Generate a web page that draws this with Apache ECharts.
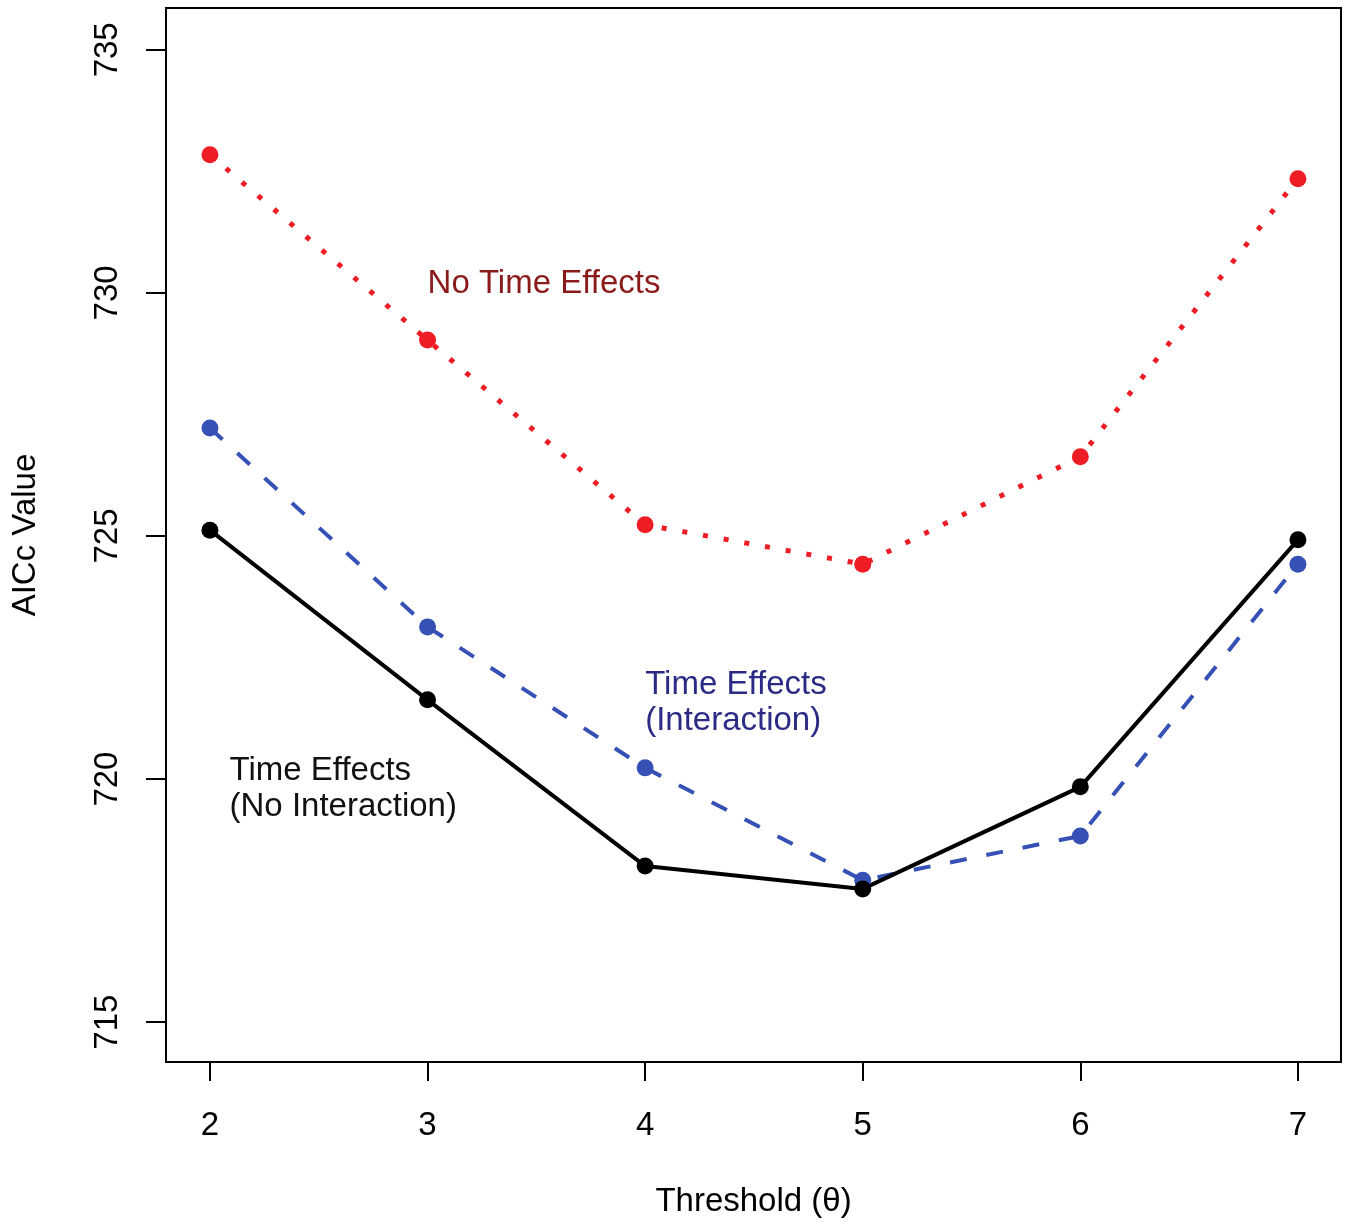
<!DOCTYPE html>
<html>
<head>
<meta charset="utf-8">
<script src="https://cdn.jsdelivr.net/npm/echarts@6.0.0/dist/echarts.min.js"></script>
<style>
  html, body { margin: 0; padding: 0; background: #fff; }
  #chart { width: 1350px; height: 1224px; }
</style>
</head>
<body>
<div id="chart"></div>
<script>
// 阈值 θ
var thresholds = [2, 3, 4, 5, 6, 7]
// AICc 数值
var noTimeEffects = [732.84, 729.03, 725.23, 724.42, 726.63, 732.35]
var timeInteraction = [727.22, 723.13, 720.23, 717.92, 718.83, 724.42]
var timeNoInteraction = [725.12, 721.63, 718.21, 717.74, 719.84, 724.92]
// 刻度
var xTicks = [2, 3, 4, 5, 6, 7]
var yTicks = [715, 720, 725, 730, 735]

;(function () {
  var myChart = echarts.init(document.getElementById('chart'))
  var font = 'Liberation Sans, Arial, sans-serif'

  function pairs(ys) {
    return thresholds.map(function (x, i) {
      return [x, ys[i]]
    })
  }

  // 文字标注
  function note(coord, text, color) {
    return {
      symbol: 'circle',
      symbolSize: 0,
      data: [
        {
          coord: coord,
          label: {
            show: true,
            position: 'right',
            distance: 0,
            formatter: text,
            color: color,
            fontSize: 33,
            lineHeight: 36,
            fontFamily: font,
            align: 'left'
          }
        }
      ],
      silent: true,
      animation: false
    }
  }

  var option = {
    animation: false,
    grid: {
      left: 166,
      top: 8,
      right: 9,
      bottom: 162,
      show: true,
      borderColor: '#000',
      borderWidth: 2
    },
    xAxis: {
      type: 'value',
      min: 1.798,
      max: 7.198,
      name: 'Threshold (θ)',
      nameLocation: 'middle',
      nameGap: 123,
      nameTextStyle: { color: '#000', fontSize: 33, fontFamily: font },
      axisLine: { show: true, lineStyle: { color: '#000', width: 2 } },
      axisTick: {
        show: true,
        length: 19,
        customValues: xTicks,
        lineStyle: { color: '#000', width: 2 }
      },
      axisLabel: {
        customValues: xTicks,
        margin: 47,
        color: '#000',
        fontSize: 33,
        fontFamily: font
      },
      splitLine: { show: false }
    },
    yAxis: {
      type: 'value',
      min: 714.18,
      max: 735.86,
      name: 'AICc Value',
      nameLocation: 'middle',
      nameGap: 124,
      nameTextStyle: { color: '#000', fontSize: 33, fontFamily: font },
      axisLine: { show: true, lineStyle: { color: '#000', width: 2 } },
      axisTick: {
        show: true,
        length: 20,
        customValues: yTicks,
        lineStyle: { color: '#000', width: 2 }
      },
      axisLabel: {
        customValues: yTicks,
        rotate: 90,
        margin: 42,
        color: '#000',
        fontSize: 33,
        fontFamily: font
      },
      splitLine: { show: false }
    },
    series: [
      {
        name: 'No Time Effects',
        type: 'line',
        data: pairs(noTimeEffects),
        symbol: 'circle',
        symbolSize: 17,
        itemStyle: { color: '#ee1c25' },
        lineStyle: { color: '#ee1c25', width: 5, type: [5, 16] },
        markPoint: note([3, 730.19], 'No Time Effects', '#8b1a1a')
      },
      {
        name: 'Time Effects (Interaction)',
        type: 'line',
        data: pairs(timeInteraction),
        symbol: 'circle',
        symbolSize: 17,
        itemStyle: { color: '#3651b5' },
        lineStyle: { color: '#3651b5', width: 4, type: [17, 20] },
        markPoint: note([4, 721.56], 'Time Effects\n(Interaction)', '#2b2b85')
      },
      {
        name: 'Time Effects (No Interaction)',
        type: 'line',
        data: pairs(timeNoInteraction),
        symbol: 'circle',
        symbolSize: 17,
        itemStyle: { color: '#000' },
        lineStyle: { color: '#000', width: 4 },
        markPoint: note([2.09, 719.8], 'Time Effects\n(No Interaction)', '#111')
      }
    ]
  }

  myChart.setOption(option)
  window.addEventListener('resize', function () {
    myChart.resize()
  })
})()
</script>
</body>
</html>
